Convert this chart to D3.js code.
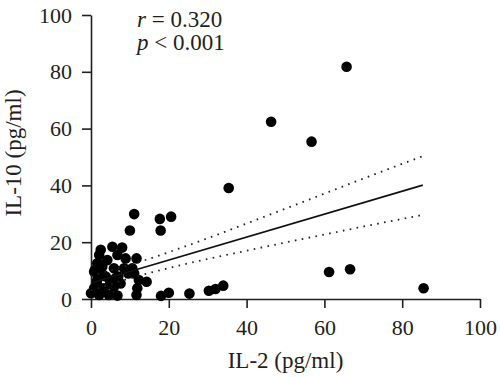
<!DOCTYPE html>
<html>
<head>
<meta charset="utf-8">
<script src="https://cdn.jsdelivr.net/npm/d3@7"></script>
<style>
  body { margin: 0; background: #fff; }
  svg { display: block; }
  text { font-family: "Liberation Serif", "Times New Roman", serif; fill: #231f20; }
</style>
</head>
<body>
<svg id="chart" width="500" height="377"></svg>
<script>
// IL-2 (x) and IL-10 (y) values
const il2 = [46.3, 56.7, 65.7, 35.4, 17.7, 20.6, 17.9, 11.1, 10.0, 61.2, 66.6, 85.5,
    14.3, 18.0, 20.0, 25.3, 30.3, 32.0, 34.0,
    2.5, 5.5, 8.0, 4.2, 6.8, 8.9, 11.7, 1.6, 2.9, 5.9, 8.5, 10.6, 11.1, 0.8, 1.6,
    3.8, 6.3, 0.8, 3.3, 5.9, 0.0, 2.1, 4.6, 6.8, 12.3, 11.9, 11.7, 4.9, 7.6,
    2.1, 2.7, 1.0, 9.6, 7.0, 1.5, 3.1, 2.3];
const il10 = [62.4, 55.4, 81.8, 39.1, 28.2, 29.0, 24.1, 29.9, 24.1, 9.5, 10.5, 3.8,
    6.1, 1.1, 2.2, 1.9, 2.9, 3.5, 4.7,
    17.3, 18.4, 18.1, 13.7, 15.5, 14.3, 14.3, 12.6, 11.4, 10.8, 10.8, 10.8, 9.0, 9.6, 6.7,
    7.9, 7.3, 3.8, 3.8, 4.3, 2.0, 1.4, 1.4, 1.2, 6.7, 3.8, 1.4, 5.5, 5.5,
    15.5, 12.0, 10.2, 9.0, 7.9, 5.5, 8.5, 3.8];

// fitted line and 95% band
const fitX = [0, 85.3];
const fitY = [5.6, 40.1];
const bandX = [0, 10, 20, 30, 40, 50, 60, 70, 85.3];
const bandUpper = [8.2, 12.0, 16.5, 21.4, 26.6, 31.8, 37.1, 42.4, 50.3];
const bandLower = [3.0, 7.3, 10.9, 14.1, 17.0, 19.9, 22.7, 25.5, 29.6];

const xTicks = [0, 20, 40, 60, 80, 100];
const yTicks = [0, 20, 40, 60, 80, 100];

const svg = d3.select("#chart");
const axisColor = "#231f20";

let x = d3.scaleLinear().domain([0, 100]).range([91, 480]);
let y = d3.scaleLinear().domain([0, 100]).range([299, 15]);

// axes
let xAxis = d3.axisBottom(x).tickValues(xTicks).tickSize(9).tickSizeOuter(0).tickPadding(11);
let yAxis = d3.axisLeft(y).tickValues(yTicks).tickSize(9).tickSizeOuter(0).tickPadding(10);

let gx = svg.append("g").attr("transform", "translate(0,299)").call(xAxis);
let gy = svg.append("g").attr("transform", "translate(91,0)").call(yAxis);

[gx, gy].forEach(g => {
    g.select(".domain").attr("stroke", axisColor).attr("stroke-width", 1.6);
    g.selectAll(".tick line").attr("stroke", axisColor).attr("stroke-width", 1.6);
    g.selectAll(".tick text")
        .attr("font-size", 22)
        .attr("fill", axisColor);
});

// axis titles
svg.append("text")
    .attr("x", 285.5).attr("y", 368)
    .attr("text-anchor", "middle")
    .attr("font-size", 23)
    .text("IL-2 (pg/ml)");

svg.append("text")
    .attr("transform", "translate(21,153) rotate(-90)")
    .attr("text-anchor", "middle")
    .attr("font-size", 23)
    .text("IL-10 (pg/ml)");

// points
let pts = il2.map((v, i) => ({ x: v, y: il10[i] }));
svg.append("g").selectAll("circle")
    .data(pts)
    .enter()
    .append("circle")
    .attr("cx", d => x(d.x))
    .attr("cy", d => y(d.y))
    .attr("r", 5.3)
    .attr("fill", "#000");

// regression line + confidence band
let line = d3.line().x(d => x(d[0])).y(d => y(d[1])).curve(d3.curveMonotoneX);

svg.append("path")
    .datum(fitX.map((v, i) => [v, fitY[i]]))
    .attr("d", line)
    .attr("fill", "none")
    .attr("stroke", "#111")
    .attr("stroke-width", 1.6);

[bandUpper, bandLower].forEach(arr => {
    svg.append("path")
        .datum(bandX.map((v, i) => [v, arr[i]]))
        .attr("d", line)
        .attr("fill", "none")
        .attr("stroke", "#222")
        .attr("stroke-width", 1.8)
        .attr("stroke-dasharray", "1.6,5.4");
});

// stats annotation
let ann = svg.append("g").attr("font-size", 23);
let t1 = ann.append("text").attr("x", 137).attr("y", 27);
t1.append("tspan").attr("font-style", "italic").text("r");
t1.append("tspan").text(" = 0.320");
let t2 = ann.append("text").attr("x", 137).attr("y", 50);
t2.append("tspan").attr("font-style", "italic").text("p");
t2.append("tspan").text(" < 0.001");
</script>
</body>
</html>
